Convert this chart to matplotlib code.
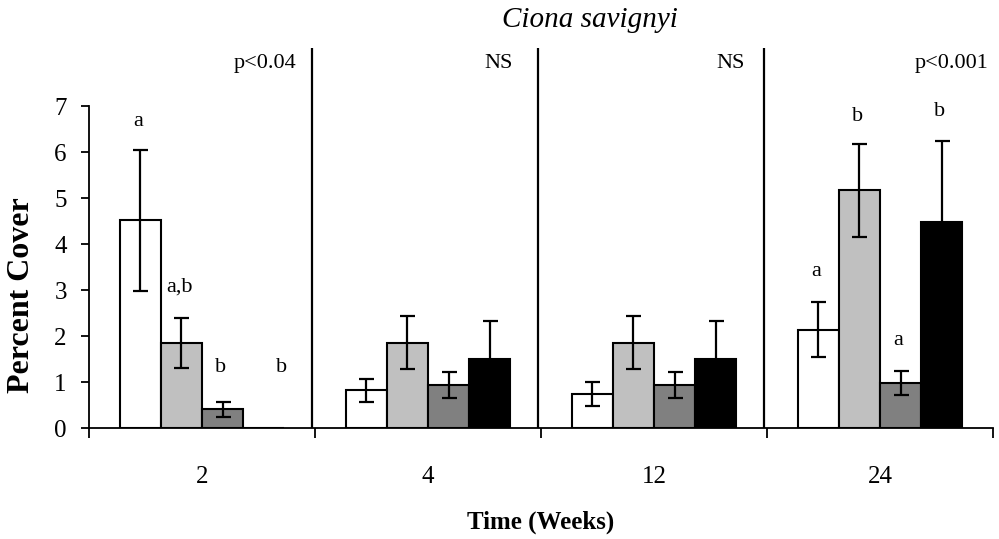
import numpy as np
import matplotlib
matplotlib.use("Agg")
import matplotlib.pyplot as plt

# Sampling times and treatment series
weeks = ["2", "4", "12", "24"]
treatments = ["T1", "T2", "T3", "T4"]

# Mean percent cover per treatment (rows) at each time (columns)
means = [
    [4.52, 0.83, 0.75, 2.14],
    [1.86, 1.86, 1.86, 5.17],
    [0.41, 0.94, 0.94, 0.98],
    [0.00, 1.50, 1.50, 4.49],
]
# Standard errors
errors = [
    [1.53, 0.25, 0.26, 0.60],
    [0.54, 0.58, 0.58, 1.02],
    [0.16, 0.28, 0.28, 0.26],
    [0.00, 0.84, 0.84, 1.76],
]
# Significance letters per bar ("" = none)
letters = [
    ["a", "", "", "a"],
    ["a,b", "", "", "b"],
    ["b", "", "", "a"],
    ["b", "", "", "b"],
]
p_labels = ["p<0.04", "NS", "NS", "p<0.001"]
title = "Ciona savignyi"

# ---- styling ----
plt.rcParams["font.family"] = ["Liberation Serif", "DejaVu Serif"]
colors = ["white", "#c0c0c0", "#808080", "black"]
bar_w = 0.182
y_top = 8.27

fig = plt.figure(figsize=(9.99, 5.39), dpi=100)
ax = fig.add_axes([89 / 999, 110.7 / 539, 904 / 999, 380.4 / 539])

n = len(treatments)
group_centers = np.arange(len(weeks)) + 0.5
offsets = (np.arange(n) - (n - 1) / 2) * bar_w

for i in range(n):
    xs = group_centers + offsets[i]
    ax.bar(xs, means[i], width=bar_w, color=colors[i], edgecolor="black",
           linewidth=1.5, zorder=2)
    m = np.array(means[i])
    e = np.array(errors[i])
    has_err = e > 0
    ax.errorbar(xs[has_err], m[has_err], yerr=e[has_err], fmt="none",
                ecolor="black", elinewidth=1.6, capsize=5.4, capthick=1.6,
                zorder=3)

# letter heights above the bars
letter_y = [
    [6.67, 0, 0, 3.40],
    [3.08, 0, 0, 6.77],
    [1.33, 0, 0, 1.90],
    [1.33, 0, 0, 6.88],
]
letter_dx = [
    [-0.01, 0, 0, -0.01],
    [-0.01, 0, 0, -0.01],
    [-0.01, 0, 0, -0.01],
    [0.08, 0, 0, -0.01],
]
for i in range(n):
    for j in range(len(weeks)):
        if letters[i][j]:
            ax.text(group_centers[j] + offsets[i] + letter_dx[i][j], letter_y[i][j],
                    letters[i][j], ha="center", va="center", fontsize=16)

# p-value labels, right-aligned near the right of each panel
p_x = [0.92, 1.876, 2.90, 3.98]
for j, lab in enumerate(p_labels):
    ax.text(p_x[j], 7.94, lab, ha="right", va="center", fontsize=16)

# panel separators
for xb in range(1, len(weeks)):
    ax.plot([xb - 0.012, xb - 0.012], [0, y_top], color="black", lw=1.6,
            zorder=1, solid_capstyle="butt")

ax.set_xlim(0, len(weeks))
ax.set_ylim(0, y_top)
ax.spines["top"].set_visible(False)
ax.spines["right"].set_visible(False)
ax.spines["left"].set_bounds(0, 7)
ax.spines["left"].set_linewidth(1.3)
ax.spines["bottom"].set_linewidth(1.3)

ax.set_yticks(range(8))
ax.set_yticklabels([str(v) for v in range(8)], fontsize=18)
ax.set_xticks(range(len(weeks) + 1))
ax.set_xticklabels([])
ax.set_xticks(group_centers, minor=True)
ax.set_xticklabels(weeks, minor=True, fontsize=18)
ax.tick_params(axis="y", direction="out", length=6, width=1.3, pad=10)
ax.tick_params(axis="x", which="major", direction="out", length=7, width=1.3)
ax.tick_params(axis="x", which="minor", length=0, pad=27)

fig.text(541 / 999, 1 - 522 / 539, "Time (Weeks)", ha="center", va="center",
         fontsize=18, fontweight="bold")
fig.text(22 / 999, 1 - 295 / 539, "Percent Cover", ha="center", va="center",
         rotation=90, fontsize=23, fontweight="bold")
fig.text(590 / 999, 1 - 20 / 539, title, ha="center", va="center",
         fontsize=21, style="italic")

fig.savefig("out.png", dpi=100)
